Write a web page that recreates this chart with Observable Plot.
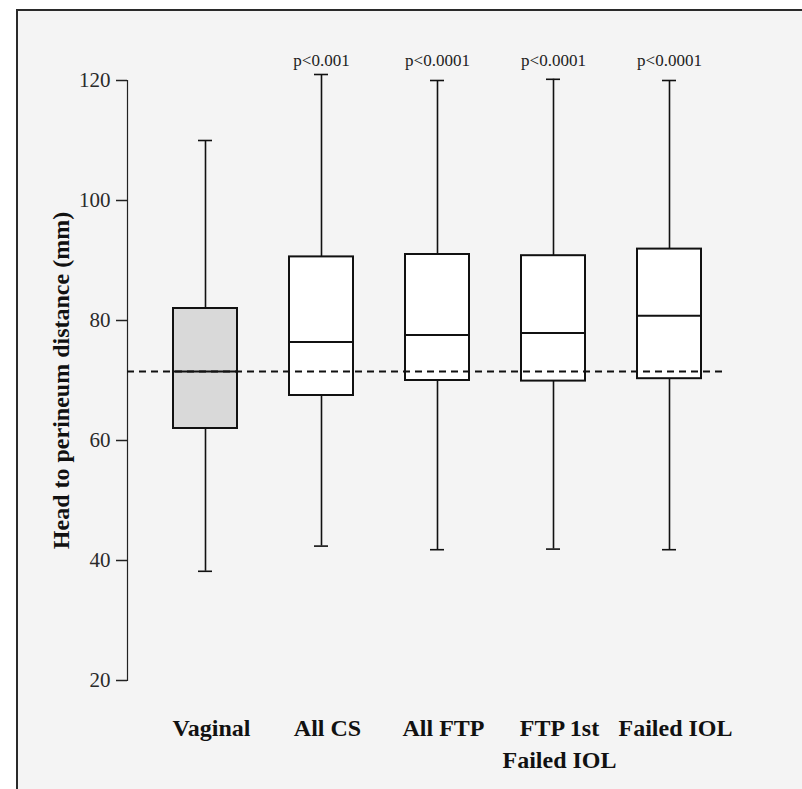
<!DOCTYPE html>
<html>
<head>
<meta charset="utf-8">
<script src="https://cdn.jsdelivr.net/npm/d3@7"></script>
<script src="https://cdn.jsdelivr.net/npm/@observablehq/plot@0.6"></script>
<style>
  html, body { margin: 0; padding: 0; background: #ffffff; }
  #wrap { position: relative; width: 802px; height: 789px; overflow: hidden; }
  #panel { position: absolute; left: 16px; top: 9px; right: 0; bottom: 0;
           background: #f4f4f4; border-top: 2px solid #2a2a2a; border-left: 2px solid #2a2a2a; }
  #chart { position: absolute; left: 0; top: 0; }
  #chart svg { background: transparent !important; }
</style>
</head>
<body>
<div id="wrap"><div id="panel"></div><div id="chart"></div></div>
<script>
const groups = ["Vaginal", "All CS", "All FTP", "FTP 1st\nFailed IOL", "Failed IOL"];
const whiskerLow = [38.2, 42.4, 41.8, 41.9, 41.8];
const q1 = [62.0, 67.5, 70.0, 69.9, 70.3];
const median = [71.5, 76.4, 77.6, 77.9, 80.8];
const q3 = [82.0, 90.6, 91.0, 90.8, 91.9];
const whiskerHigh = [110, 121, 120, 120.2, 120];
const pValues = ["", "p<0.001", "p<0.0001", "p<0.0001", "p<0.0001"];
const referenceLine = 71.5;
const yTicks = [20, 40, 60, 80, 100, 120];

const rows = groups.map((g, i) => ({
  group: g, lo: whiskerLow[i], q1: q1[i], med: median[i], q3: q3[i], hi: whiskerHigh[i],
  p: pValues[i], fill: i === 0 ? "#d9d9d9" : "#ffffff"
}));

const serif = "'Liberation Serif', 'Times New Roman', serif";

const chart = Plot.plot({
  width: 802,
  height: 789,
  marginLeft: 127,
  marginRight: 79,
  marginTop: 80,
  marginBottom: 109,
  style: { fontFamily: serif, fontSize: "21px", background: "transparent", color: "#111" },
  x: { domain: groups, paddingInner: 0.449, paddingOuter: 0.29, align: 0.678, label: null },
  y: { domain: [20, 120], label: null },
  marks: [
    Plot.frame({ anchor: "left", stroke: "#222", strokeWidth: 1.2 }),
    Plot.axisY({ ticks: yTicks, tickSize: 11, tickPadding: 6, fontSize: 21, stroke: "#222", strokeWidth: 1.5, fill: "#2a2a2a", label: null }),
    Plot.axisX({ tickSize: 0, tickPadding: 32, fontSize: 24, fontWeight: "bold", fill: "#111", lineHeight: 1.36, dx: 6, label: null }),
    Plot.text(["Head to perineum distance (mm)"], { frameAnchor: "left", textAnchor: "middle", lineAnchor: "middle", dx: -66, rotate: -90, fontSize: 24, fontWeight: "bold", fill: "#111" }),
    Plot.ruleX(rows, { x: "group", y1: "lo", y2: "hi", stroke: "#111", strokeWidth: 1.6 }),
    Plot.tickY(rows, { x: "group", y: "lo", stroke: "#111", strokeWidth: 1.6, insetLeft: 25, insetRight: 25 }),
    Plot.tickY(rows, { x: "group", y: "hi", stroke: "#111", strokeWidth: 1.6, insetLeft: 25, insetRight: 25 }),
    Plot.barY(rows, { x: "group", y1: "q1", y2: "q3", fill: "fill", stroke: "#111", strokeWidth: 2 }),
    Plot.tickY(rows, { x: "group", y: "med", stroke: "#111", strokeWidth: 2 }),
    Plot.ruleY([referenceLine], { stroke: "#111", strokeWidth: 1.8, strokeDasharray: "7,5" }),
    Plot.text(rows, { x: "group", text: "p", frameAnchor: "top", lineAnchor: "middle", dy: -20, fontSize: 17, fill: "#222" })
  ]
});
document.getElementById("chart").appendChild(chart);
</script>
</body>
</html>
